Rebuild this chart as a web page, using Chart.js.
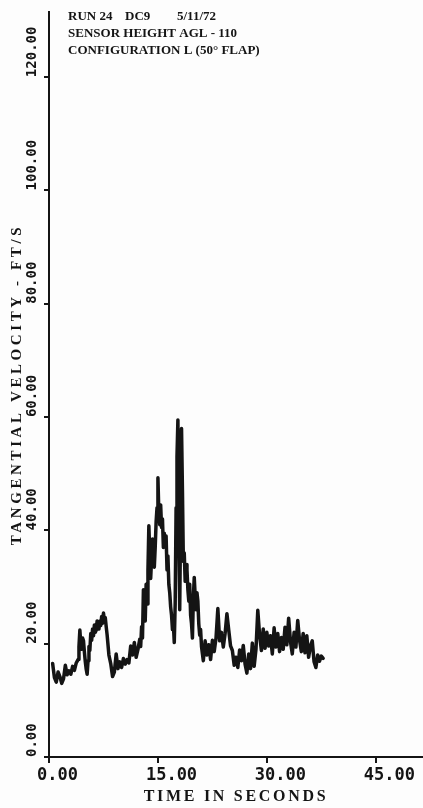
<!DOCTYPE html>
<html>
<head>
<meta charset="utf-8">
<title>Run 24 DC9 tangential velocity</title>
<script src="https://cdn.jsdelivr.net/npm/chart.js@4/dist/chart.umd.min.js"></script>
<style>
  html, body { margin: 0; padding: 0; background: #fdfdfd; overflow: hidden; }
  canvas { display: block; }
</style>
</head>
<body>
<canvas id="chart" width="423" height="808"></canvas>
<script>
// Sample times (s) of the recorded trace; denser sampling through the gusty parts
const TIME_S = [
  // 0.5 - 3.75 s
  0.50, 0.75, 1.00, 1.25, 1.50, 1.75, 2.00, 2.25, 2.50, 2.75, 3.00, 3.25, 3.50, 3.75,
  // 4 - 8 s
  4.000, 4.125, 4.250, 4.375, 4.500, 4.625, 4.750, 4.875, 5.000, 5.125, 5.250,
  5.375, 5.500, 5.625, 5.750, 5.875, 6.000, 6.125, 6.250, 6.375, 6.500, 6.625,
  6.750, 6.875, 7.000, 7.125, 7.250, 7.375, 7.500, 7.625, 7.750, 7.875, 8.000,
  // 8.25 - 12.25 s
  8.25, 8.50, 8.75, 9.00, 9.25, 9.50, 9.75, 10.00, 10.25, 10.50, 10.75, 11.00,
  11.25, 11.50, 11.75, 12.00, 12.25,
  // 12.5 - 21 s
  12.500, 12.625, 12.750, 12.875, 13.000, 13.125, 13.250, 13.375, 13.500, 13.625,
  13.750, 13.875, 14.000, 14.125, 14.250, 14.375, 14.500, 14.625, 14.750, 14.875,
  15.000, 15.125, 15.250, 15.375, 15.500, 15.625, 15.750, 15.875, 16.000, 16.125,
  16.250, 16.375, 16.500, 16.625, 16.750, 16.875, 17.000, 17.125, 17.250, 17.375,
  17.500, 17.625, 17.750, 17.875, 18.000, 18.125, 18.250, 18.375, 18.500, 18.625,
  18.750, 18.875, 19.000, 19.125, 19.250, 19.375, 19.500, 19.625, 19.750, 19.875,
  20.000, 20.125, 20.250, 20.375, 20.500, 20.625, 20.750, 20.875, 21.000,
  // 21.25 - 37.75 s
  21.25, 21.50, 21.75, 22.00, 22.25, 22.50, 22.75, 23.00, 23.25, 23.50, 23.75,
  24.00, 24.25, 24.50, 24.75, 25.00, 25.25, 25.50, 25.75, 26.00, 26.25, 26.50,
  26.75, 27.00, 27.25, 27.50, 27.75, 28.00, 28.25, 28.50, 28.75, 29.00, 29.25,
  29.50, 29.75, 30.00, 30.25, 30.50, 30.75, 31.00, 31.25, 31.50, 31.75, 32.00,
  32.25, 32.50, 32.75, 33.00, 33.25, 33.50, 33.75, 34.00, 34.25, 34.50, 34.75,
  35.00, 35.25, 35.50, 35.75, 36.00, 36.25, 36.50, 36.75, 37.00, 37.25, 37.50, 37.75
];

// Tangential velocity (ft/s) at each sample time
const VELOCITY_FPS = [
  // 0.5 - 3.75 s
  16.5, 14.0, 13.2, 15.0, 14.2, 13.0, 13.8, 16.2, 14.5, 15.2, 14.6, 16.0, 15.3, 16.6,
  // 4 - 8 s
  17.2, 19.5, 22.4, 20.0, 19.0, 21.0, 20.5, 18.5, 16.8, 15.5, 14.6,
  17.0, 19.5, 18.8, 21.8, 20.6, 22.6, 21.4, 23.3, 22.0, 22.4, 24.0,
  23.8, 22.6, 24.0, 23.2, 24.8, 23.6, 25.4, 24.2, 24.6, 23.0, 21.6,
  // 8.25 - 12.25 s
  18.0, 16.5, 14.2, 15.0, 18.2, 15.6, 16.8, 15.8, 17.4, 16.4, 17.2, 16.6,
  19.6, 18.0, 20.2, 17.6, 19.0,
  // 12.5 - 21 s
  20.8, 19.5, 23.0, 21.0, 29.5, 26.0, 24.0, 30.5, 27.0, 33.0,
  40.8, 36.0, 31.5, 35.0, 38.5, 34.5, 33.5, 37.0, 41.5, 44.0,
  49.3, 43.0, 41.0, 44.5, 40.5, 42.0, 37.0, 39.5, 37.5, 39.0,
  33.0, 35.5, 30.5, 29.0, 26.5, 25.0, 22.5, 23.5, 20.2, 27.0,
  44.0, 53.0, 59.5, 40.0, 26.0, 42.0, 58.0, 47.0, 34.5, 36.0,
  31.0, 34.0, 33.0, 29.5, 27.5, 30.5, 25.0, 23.5, 21.0, 28.0,
  31.7, 28.5, 26.0, 29.0, 27.5, 23.5, 21.5, 22.5, 19.5,
  // 21.25 - 37.75 s
  17.0, 20.5, 18.0, 19.8, 17.2, 20.6, 18.6, 21.0, 26.2, 20.5, 22.0,
  19.4, 21.8, 25.3, 22.4, 19.6, 18.8, 16.2, 17.6, 15.8, 18.9, 17.0,
  19.7, 16.4, 14.8, 18.2, 15.6, 20.1, 16.0, 19.0, 25.9, 21.5, 18.8,
  22.6, 19.2, 22.0, 19.6, 21.4, 18.2, 22.8, 19.4, 21.8, 18.6, 21.1,
  19.0, 22.9, 19.8, 24.5, 20.4, 18.2, 22.0, 19.4, 24.1, 20.6, 18.6,
  21.8, 18.4, 21.4, 17.6, 19.6, 20.5, 16.8, 15.8, 18.0, 16.9, 17.8, 17.4
];

// Axis tick values
const X_TICKS = [0, 15, 30, 45];
const Y_TICKS = [0, 20, 40, 60, 80, 100, 120];

// Header block printed above the trace
const HEADER = [
  ['RUN 24', 'DC9', '5/11/72'],
  ['SENSOR HEIGHT AGL - 110'],
  ['CONFIGURATION L (50\u00B0 FLAP)']
];

const X_TITLE = 'TIME IN SECONDS';
const Y_TITLE = 'TANGENTIAL VELOCITY - FT/S';

const INK = '#141414';
const TICK_FONT = 'DejaVu Sans Mono';
const TYPE_FONT = 'Liberation Serif';

// Typewriter-style letter spacing for the axis titles (px)
const TITLE_TRACKING = { x: 2.7, y: 3.6 };

const titleTracking = {
  id: 'titleTracking',
  beforeDraw(chart) {
    Object.keys(TITLE_TRACKING).forEach(id => {
      const scale = chart.scales[id];
      if (!scale || scale.__tracked) return;
      const base = scale.drawTitle;
      scale.drawTitle = function () {
        const c = this.ctx;
        const prev = c.letterSpacing;
        c.letterSpacing = TITLE_TRACKING[id] + 'px';
        base.call(this);
        c.letterSpacing = prev;
      };
      scale.__tracked = true;
    });
  }
};

const headerBlock = {
  id: 'headerBlock',
  afterDraw(chart) {
    const ctx = chart.ctx;
    const left = chart.chartArea.left + 19;
    const lineX = [[0, 57, 109], [0], [0]];
    ctx.save();
    ctx.font = 'bold 13px "' + TYPE_FONT + '"';
    ctx.fillStyle = INK;
    ctx.textBaseline = 'alphabetic';
    ctx.textAlign = 'left';
    HEADER.forEach((parts, row) => {
      const y = 20 + row * 17;
      parts.forEach((txt, k) => ctx.fillText(txt, left + lineX[row][k], y));
    });
    ctx.restore();
  }
};

const points = TIME_S.map((t, i) => ({ x: t, y: VELOCITY_FPS[i] }));

new Chart(document.getElementById('chart'), {
  type: 'line',
  data: {
    datasets: [{
      label: 'Tangential velocity',
      data: points,
      borderColor: INK,
      borderWidth: 3.5,
      pointRadius: 0,
      tension: 0,
      borderJoinStyle: 'round',
      borderCapStyle: 'round',
      fill: false
    }]
  },
  options: {
    responsive: false,
    animation: false,
    layout: { padding: { top: 12, left: 0, right: 0, bottom: 0 } },
    plugins: {
      legend: { display: false },
      tooltip: { enabled: false }
    },
    scales: {
      x: {
        type: 'linear',
        position: 'bottom',
        min: 0,
        max: 51.5,
        afterBuildTicks: s => { s.ticks = X_TICKS.map(v => ({ value: v })); },
        afterFit: s => { s.height = 51; s.paddingLeft = 0; s.paddingRight = 0; },
        border: { color: INK, width: 2 },
        grid: { drawOnChartArea: false, drawTicks: true, tickLength: 6, color: INK, lineWidth: 2 },
        ticks: {
          autoSkip: false,
          maxRotation: 0,
          align: 'start',
          labelOffset: -12,
          padding: 2,
          color: INK,
          font: { family: TICK_FONT, size: 17, weight: 'bold' },
          callback: v => Number(v).toFixed(2)
        },
        title: {
          display: true,
          text: X_TITLE,
          color: INK,
          font: { family: TYPE_FONT, size: 16, weight: 'bold' },
          padding: { top: 0, bottom: 2 }
        }
      },
      y: {
        type: 'linear',
        position: 'left',
        min: 0,
        max: 131.5,
        afterBuildTicks: s => { s.ticks = Y_TICKS.map(v => ({ value: v })); },
        afterFit: s => { s.width = 49; s.paddingTop = 0; s.paddingBottom = 0; },
        border: { color: INK, width: 2 },
        grid: { drawOnChartArea: false, drawTicks: true, tickLength: 5, color: INK, lineWidth: 2 },
        ticks: {
          autoSkip: false,
          minRotation: 90,
          maxRotation: 90,
          mirror: true,
          crossAlign: 'near',
          padding: -17,
          color: INK,
          font: { family: TICK_FONT, size: 14, weight: 'bold' },
          callback: v => Number(v).toFixed(2)
        },
        title: {
          display: true,
          text: Y_TITLE,
          color: INK,
          font: { family: TYPE_FONT, size: 15, weight: 'bold' },
          padding: { top: 8, bottom: 0 }
        }
      }
    }
  },
  plugins: [titleTracking, headerBlock]
});
</script>
</body>
</html>
